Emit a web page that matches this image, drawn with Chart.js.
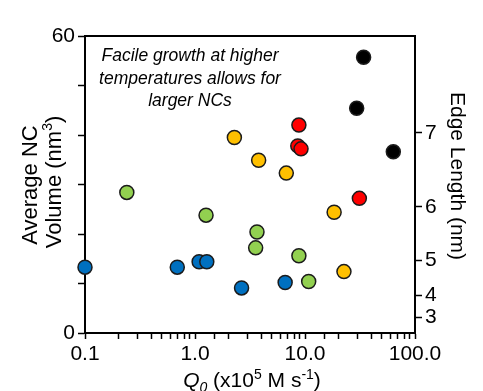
<!DOCTYPE html>
<html lang="en">
<head>
  <meta charset="UTF-8">
  <title>Average NC Volume vs Q0</title>
  <script src="https://cdn.jsdelivr.net/npm/chart.js"></script>
  <style>
    body { margin: 0; background: #fff; }
    canvas { display: block; }
  </style>
</head>
<body>
  <canvas id="chart" width="483" height="391"></canvas>
  <script>
    // Q0 (x10^5 M s^-1) and average NC volume (nm^3), one pair of arrays per colour
    const blueQ = [0.1, 0.69, 1.09, 1.28, 2.65, 6.6];
    const blueV = [13.3, 13.3, 14.4, 14.4, 9.1, 10.2];
    const greenQ = [0.24, 1.26, 3.66, 3.56, 8.8, 10.8];
    const greenV = [28.4, 23.8, 20.4, 17.2, 15.6, 10.4];
    const yellowQ = [2.28, 3.79, 6.76, 18.4, 22.6];
    const yellowV = [39.5, 34.9, 32.3, 24.4, 12.4];
    const redQ = [8.8, 8.6, 9.2, 31.2];
    const redV = [42.0, 37.8, 37.2, 27.2];
    const blackQ = [34.1, 29.5, 63.5];
    const blackV = [55.7, 45.4, 36.6];

    const volumeTicks = [0, 60];
    const xTickLabels = [0.1, 1, 10, 100];
    const edgeLabels = [3, 4, 5, 6, 7];

    // tetrahedron volume for an edge length (right axis mapping)
    const tetraVolume = L => Math.pow(L, 3) / (6 * Math.SQRT2);

    const pts = (xs, ys) => xs.map((x, i) => ({ x: x, y: ys[i] }));
    const series = (data, color) => ({
      data: data,
      backgroundColor: color,
      borderColor: '#1b1b1b',
      borderWidth: 1.5,
      pointRadius: 7,
      pointHoverRadius: 7,
      clip: false
    });

    const FONT = 'Liberation Sans, Arial, sans-serif';

    const decorations = {
      id: 'decorations',
      afterDraw(chart) {
        const ctx = chart.ctx;
        const a = chart.chartArea;
        ctx.save();
        // top frame line
        ctx.strokeStyle = '#000';
        ctx.lineWidth = 2;
        ctx.beginPath();
        ctx.moveTo(a.left, a.top);
        ctx.lineTo(a.right, a.top);
        ctx.stroke();

        ctx.fillStyle = '#000';

        // note text
        ctx.font = 'italic 17.5px ' + FONT;
        ctx.textAlign = 'center';
        ctx.textBaseline = 'alphabetic';
        ctx.fillText('Facile growth at higher', 190, 61);
        ctx.fillText('temperatures allows for', 190, 84);
        ctx.fillText('larger NCs', 190, 106);

        // left title
        ctx.save();
        ctx.translate(31, 185);
        ctx.rotate(-Math.PI / 2);
        ctx.font = '22px ' + FONT;
        ctx.textAlign = 'center';
        ctx.textBaseline = 'middle';
        ctx.fillText('Average NC', 0, 0);
        ctx.textAlign = 'left';
        const p1 = 'Volume (nm', p2 = '3', p3 = ')';
        ctx.font = '22px ' + FONT;
        const w1 = ctx.measureText(p1).width;
        const w3 = ctx.measureText(p3).width;
        ctx.font = '14px ' + FONT;
        const w2 = ctx.measureText(p2).width;
        let sx = 3 - (w1 + w2 + w3) / 2;
        ctx.font = '22px ' + FONT;
        ctx.fillText(p1, sx, 24);
        ctx.font = '14px ' + FONT;
        ctx.fillText(p2, sx + w1, 17);
        ctx.font = '22px ' + FONT;
        ctx.fillText(p3, sx + w1 + w2, 24);
        ctx.restore();

        // right title
        ctx.save();
        ctx.translate(457, 176);
        ctx.rotate(Math.PI / 2);
        ctx.font = '21px ' + FONT;
        ctx.textAlign = 'center';
        ctx.textBaseline = 'middle';
        ctx.fillText('Edge Length (nm)', 0, 0);
        ctx.restore();

        // x title: Q0 (x10^5 M s^-1)
        const parts = [
          ['Q', 'italic 21px ' + FONT, 0],
          ['0', 'italic 14px ' + FONT, 5],
          [' (x10', '21px ' + FONT, 0],
          ['5', '14px ' + FONT, -8],
          [' M s', '21px ' + FONT, 0],
          ['-1', '14px ' + FONT, -8],
          [')', '21px ' + FONT, 0]
        ];
        let total = 0;
        parts.forEach(p => { ctx.font = p[1]; total += ctx.measureText(p[0]).width; });
        let x = 252 - total / 2;
        ctx.textAlign = 'left';
        ctx.textBaseline = 'alphabetic';
        parts.forEach(p => {
          ctx.font = p[1];
          ctx.fillText(p[0], x, 387 + p[2]);
          x += ctx.measureText(p[0]).width;
        });
        ctx.restore();
      }
    };

    const isDecade = v => Math.abs(Math.log10(v) - Math.round(Math.log10(v))) < 1e-6;

    new Chart(document.getElementById('chart'), {
      type: 'scatter',
      data: {
        datasets: [
          series(pts(greenQ, greenV), '#92d050'),
          series(pts(yellowQ, yellowV), '#ffc000'),
          series(pts(redQ, redV), '#ff0000'),
          series(pts(blackQ, blackV), '#000000'),
          series(pts(blueQ, blueV), '#0070c0')
        ]
      },
      options: {
        responsive: false,
        animation: false,
        layout: { padding: { top: 36 } },
        plugins: { legend: { display: false }, tooltip: { enabled: false } },
        scales: {
          x: {
            type: 'logarithmic',
            position: 'bottom',
            min: 0.1,
            max: 100,
            afterFit: s => { s.height = 58; },
            ticks: {
              autoSkip: false,
              maxRotation: 0,
              padding: 3,
              color: '#000',
              font: { size: 21, family: FONT },
              callback: v => (isDecade(v) && xTickLabels.some(t => Math.abs(t - v) < 1e-9)) ? Number(v).toFixed(1) : ''
            },
            grid: { drawOnChartArea: false, tickLength: 6, tickColor: '#000', tickWidth: 1.5 },
            border: { color: '#000', width: 2 }
          },
          y: {
            position: 'left',
            min: 0,
            max: 60,
            afterFit: s => { s.width = 85; },
            ticks: {
              stepSize: 10,
              padding: 3,
              color: '#000',
              font: { size: 21, family: FONT },
              callback: v => volumeTicks.includes(v) ? v : ''
            },
            grid: { drawOnChartArea: false, tickLength: 7, tickColor: '#000', tickWidth: 1.5 },
            border: { color: '#000', width: 2 }
          },
          y2: {
            position: 'right',
            min: 0,
            max: 60,
            afterFit: s => { s.width = 68; },
            afterBuildTicks: s => { s.ticks = edgeLabels.map(L => ({ value: tetraVolume(L) })); },
            ticks: {
              padding: 3,
              color: '#000',
              font: { size: 21, family: FONT },
              callback: (v, i) => edgeLabels[i]
            },
            grid: { drawOnChartArea: false, tickLength: 7, tickColor: '#000', tickWidth: 1.5 },
            border: { color: '#000', width: 2 }
          }
        }
      },
      plugins: [decorations]
    });
  </script>
</body>
</html>
